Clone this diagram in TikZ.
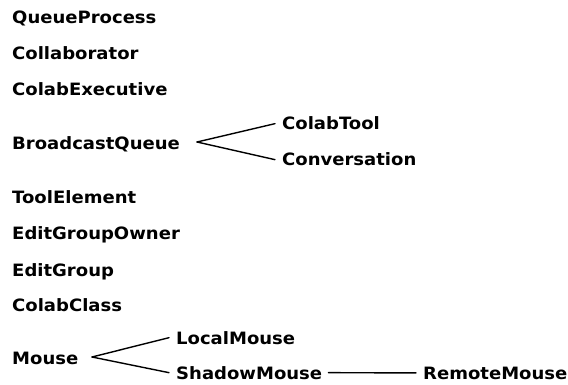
\documentclass[tikz,border=0pt]{standalone}
\usepackage{fontspec}
\setmainfont{DejaVu Sans}[FakeStretch=1.06]
\begin{document}
\begin{tikzpicture}[x=1pt,y=-1pt,
  cls/.style={inner sep=0pt, anchor=base west, font=\fontsize{17}{20}\selectfont\bfseries},
  conn/.style={line width=1.4pt, line cap=round}]
\useasboundingbox[fill=white] (0,0) rectangle (568,385);

% class names, one per row
\node[cls] (qp)  at (12,24)  {QueueProcess};
\node[cls] (col) at (12,60)  {Collaborator};
\node[cls] (ce)  at (12,96)  {ColabExecutive};
\node[cls] (bq)  at (12,150) {BroadcastQueue};
\node[cls] (te)  at (12,204) {ToolElement};
\node[cls] (ego) at (12,240) {EditGroupOwner};
\node[cls] (eg)  at (12,276) {EditGroup};
\node[cls] (cc)  at (12,311) {ColabClass};
\node[cls] (ms)  at (12,364) {Mouse};

% subclasses
\node[cls] (ct)  at (282,130) {ColabTool};
\node[cls] (cv)  at (282,166) {Conversation};
\node[cls] (lm)  at (176,344) {LocalMouse};
\node[cls] (sm)  at (176,379) {ShadowMouse};
\node[cls] (rm)  at (423,379) {RemoteMouse};

% fork points
\coordinate (bqj) at (197,142);
\coordinate (msj) at (92,357);

\draw[conn] (bqj) -- ([xshift=-7pt]ct.west);
\draw[conn] (bqj) -- ([xshift=-7pt]cv.west);
\draw[conn] (msj) -- ([xshift=-7pt]lm.west);
\draw[conn] (msj) -- ([xshift=-7pt]sm.west);
\draw[conn] ([xshift=6pt]sm.east) -- ([xshift=-7pt]rm.west);
\end{tikzpicture}
\end{document}
